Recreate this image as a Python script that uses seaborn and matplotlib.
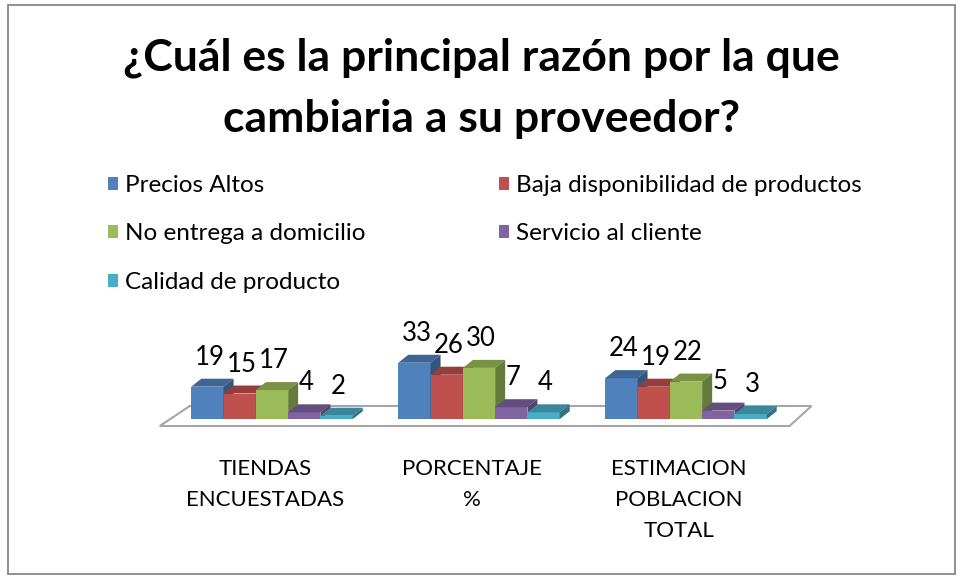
import pandas as pd
import seaborn as sns
import matplotlib.pyplot as plt
from matplotlib.patches import Polygon, Rectangle, Patch
from matplotlib.colors import to_rgb
from matplotlib.transforms import ScaledTranslation

OUTPUT_FILE = "out.png"

CATEGORIES = ["TIENDAS\nENCUESTADAS", "PORCENTAJE\n%", "ESTIMACION\nPOBLACION\nTOTAL"]
REASONS = ["Precios Altos", "Baja disponibilidad de productos",
           "No entrega a domicilio", "Servicio al cliente", "Calidad de producto"]
PRECIOS_ALTOS = [19, 33, 24]
BAJA_DISPONIBILIDAD = [15, 26, 19]
NO_ENTREGA = [17, 30, 22]
SERVICIO_CLIENTE = [4, 7, 5]
CALIDAD_PRODUCTO = [2, 4, 3]
COLORS = ["#4F81BD", "#C0504D", "#9BBB59", "#8064A2", "#4BACC6"]
TITLE_LINES = ["¿Cuál es la principal razón por la que", "cambiaria a su proveedor?"]

FONT = ["Lato", "DejaVu Sans"]
DEPTH = (10, 8)  # pixel offset of the 3D faces (right, up)


def build_frame():
    series = [PRECIOS_ALTOS, BAJA_DISPONIBILIDAD, NO_ENTREGA,
              SERVICIO_CLIENTE, CALIDAD_PRODUCTO]
    rows = []
    for reason, values in zip(REASONS, series):
        for cat, v in zip(CATEGORIES, values):
            rows.append({"Categoria": cat, "Razon": reason, "Valor": v})
    return pd.DataFrame(rows)


def shade(color, factor):
    r, g, b = to_rgb(color)
    return (r * factor, g * factor, b * factor)


def add_depth(ax):
    # fake 3D: top and side faces computed from the bars seaborn drew
    to_data = ax.transData.inverted()
    dx, dy = DEPTH
    for j, cont in enumerate(ax.containers):
        for bar in cont:
            x0, y0 = bar.get_x(), bar.get_y()
            x1, y1 = x0 + bar.get_width(), y0 + bar.get_height()
            (px0, py0), (px1, py1) = ax.transData.transform([(x0, y0), (x1, y1)])
            top = [(px0, py1), (px1, py1), (px1 + dx, py1 + dy), (px0 + dx, py1 + dy)]
            side = [(px1, py0), (px1, py1), (px1 + dx, py1 + dy), (px1 + dx, py0 + dy)]
            bar.set_zorder(10 + 3 * j)
            ax.add_patch(Polygon(to_data.transform(top), closed=True, lw=0,
                                 facecolor=shade(COLORS[j], 0.78), zorder=11 + 3 * j))
            ax.add_patch(Polygon(to_data.transform(side), closed=True, lw=0,
                                 facecolor=shade(COLORS[j], 0.66), zorder=12 + 3 * j))
            ax.annotate(f"{bar.get_height():.0f}", ((x0 + x1) / 2, y1),
                        xytext=(2, 17), textcoords="offset pixels",
                        ha="center", va="bottom", fontsize=18.5, family=FONT,
                        color="black", zorder=30)


def draw_floor(ax):
    to_data = ax.transData.inverted()
    (fx0, fy), (fx1, _) = ax.transAxes.transform([(-0.014, 0), (1.0, 0)])
    pts = [(fx0, fy), (fx1, fy), (fx1 + 22, fy + 20), (fx0 + 30, fy + 20)]
    ax.add_patch(Polygon(to_data.transform(pts), closed=True, facecolor="white",
                         edgecolor="#A6A6A6", lw=1.5, zorder=1, clip_on=False))


def main():
    sns.set_style("white")
    plt.rcParams["font.family"] = FONT
    plt.rcParams["text.color"] = "black"
    plt.rcParams["xtick.color"] = "black"
    df = build_frame()

    fig = plt.figure(figsize=(9.63, 5.79), dpi=100)
    fig.patch.set_facecolor("white")
    fig.add_artist(Rectangle((0.008, 0.008), 0.984, 0.984, transform=fig.transFigure,
                             fill=False, edgecolor="#878787", lw=1.3))

    ax = fig.add_axes([168.5 / 963, 153 / 579, 621 / 963, 75.2 / 579])
    sns.barplot(data=df, x="Categoria", y="Valor", hue="Razon", hue_order=REASONS,
                palette=COLORS, width=0.78, saturation=1, linewidth=0,
                legend=False, ax=ax)
    ax.set_xlim(-0.5, 2.5)
    ax.set_ylim(-4, 40)
    ax.set_xlabel("")
    ax.set_ylabel("")
    ax.set_yticks([])
    for spine in ax.spines.values():
        spine.set_visible(False)
    ax.patch.set_alpha(0)
    ax.tick_params(axis="x", length=0, pad=24, labelsize=16, labelcolor="black")
    shift = ScaledTranslation(-0.07, 0, fig.dpi_scale_trans)
    for lbl in ax.get_xticklabels():
        lbl.set_linespacing(1.68)
        lbl.set_verticalalignment("top")
        lbl.set_transform(lbl.get_transform() + shift)

    draw_floor(ax)
    add_depth(ax)

    # title
    fig.text(0.5, 1 - 58 / 579, TITLE_LINES[0], ha="center", va="center",
             fontsize=32, fontweight="bold", color="black")
    fig.text(0.5, 1 - 119 / 579, TITLE_LINES[1], ha="center", va="center",
             fontsize=32, fontweight="bold", color="black")

    # legend: column-first fill, so reorder for the row layout
    order = [0, 2, 4, 1, 3]
    handles = [Patch(facecolor=COLORS[i], edgecolor="none") for i in order]
    labels = [REASONS[i] for i in order]
    fig.legend(handles, labels, ncol=2, loc="upper left",
               bbox_to_anchor=(108 / 963, 1 - 175 / 579), frameon=False,
               fontsize=17.5, handlelength=0.42, handleheight=0.42,
               handletextpad=0.28, labelspacing=1.13, columnspacing=5.5,
               borderpad=0, borderaxespad=0, labelcolor="black")

    fig.savefig(OUTPUT_FILE, dpi=100, facecolor="white")


if __name__ == "__main__":
    main()
